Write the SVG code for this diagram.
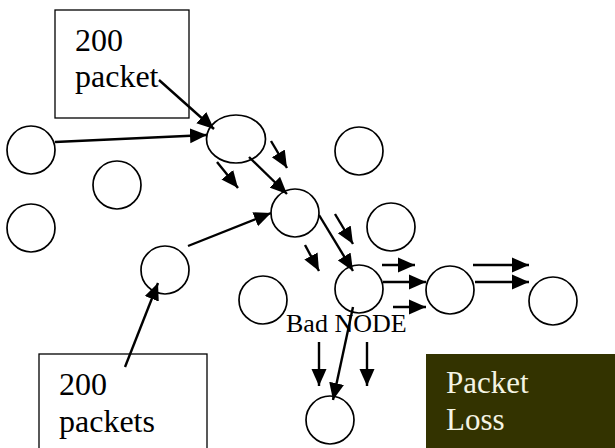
<svg xmlns="http://www.w3.org/2000/svg" width="615" height="448" viewBox="0 0 615 448">
<style>
.n{fill:#fff;stroke:#000;stroke-width:1.7}
.box{fill:#fff;stroke:#000;stroke-width:1.3}
.t{font-family:"Liberation Serif","Times New Roman",serif;font-size:32px;fill:#000}
.lbl{font-family:"Liberation Serif","Times New Roman",serif;font-size:26px;fill:#000}
.tl{font-family:"Liberation Serif","Times New Roman",serif;font-size:31px;fill:#f4f4e4}
.c line{stroke:#000;stroke-width:2.4;marker-end:url(#ah)}
</style>
<defs>
<marker id="ah" markerUnits="userSpaceOnUse" markerWidth="18" markerHeight="16" refX="17" refY="8" orient="auto">
<path d="M0,0.5 L17,8 L0,15.5 Z" fill="#000"/>
</marker>
</defs>
<rect width="615" height="448" fill="#fff"/>
<g id="box-top"><rect class="box" x="55" y="10" width="134" height="108"/><text class="t" x="75" y="51">200</text><text class="t" x="75" y="87">packet</text></g>
<g id="box-bottom"><rect class="box" x="39" y="354" width="168" height="100"/><text class="t" x="59" y="395">200</text><text class="t" x="59" y="432">packets</text></g>
<g id="packet-loss"><rect x="426" y="354" width="195" height="100" fill="#333300"/><text class="tl" x="446" y="393">Packet</text><text class="tl" x="446" y="430">Loss</text></g>
<g id="n1"><circle class="n" cx="31" cy="150" r="24"/></g>
<g id="n2"><circle class="n" cx="117" cy="185" r="24"/></g>
<g id="n3"><circle class="n" cx="31" cy="228" r="24"/></g>
<g id="n4"><ellipse class="n" cx="236" cy="139" rx="29.5" ry="24"/></g>
<g id="n5"><circle class="n" cx="359" cy="151" r="24"/></g>
<g id="n6"><circle class="n" cx="295" cy="213" r="24"/></g>
<g id="n7"><circle class="n" cx="391" cy="227" r="24"/></g>
<g id="n8"><circle class="n" cx="165" cy="270" r="24"/></g>
<g id="n9"><circle class="n" cx="263" cy="300" r="24"/></g>
<g id="bad-node"><circle class="n" cx="359" cy="289" r="24"/><text class="lbl" x="286" y="332">Bad NODE</text></g>
<g id="n10"><circle class="n" cx="450" cy="290" r="24"/></g>
<g id="n11"><circle class="n" cx="553" cy="301" r="24"/></g>
<g id="n12"><circle class="n" cx="330" cy="420" r="24"/></g>
<g id="connectors" class="c">
<line x1="159" y1="80" x2="214" y2="129"/>
<line x1="55" y1="142" x2="207" y2="135"/>
<line x1="271" y1="141" x2="287" y2="168"/>
<line x1="217" y1="162" x2="238" y2="188"/>
<line x1="249" y1="157" x2="287" y2="194"/>
<line x1="188" y1="246" x2="271" y2="213"/>
<line x1="125" y1="367" x2="158" y2="283"/>
<line x1="335" y1="214" x2="353" y2="244"/>
<line x1="305" y1="245" x2="319" y2="271"/>
<line x1="319" y1="215" x2="353" y2="271"/>
<line x1="382" y1="265" x2="415" y2="265"/>
<line x1="383" y1="282" x2="426" y2="282"/>
<line x1="393" y1="307" x2="426" y2="307"/>
<line x1="473" y1="265" x2="529" y2="265"/>
<line x1="475" y1="282" x2="529" y2="282"/>
<line x1="353" y1="307" x2="333" y2="400"/>
<line x1="319" y1="342" x2="319" y2="386"/>
<line x1="367" y1="342" x2="367" y2="386"/>
</g>
</svg>
